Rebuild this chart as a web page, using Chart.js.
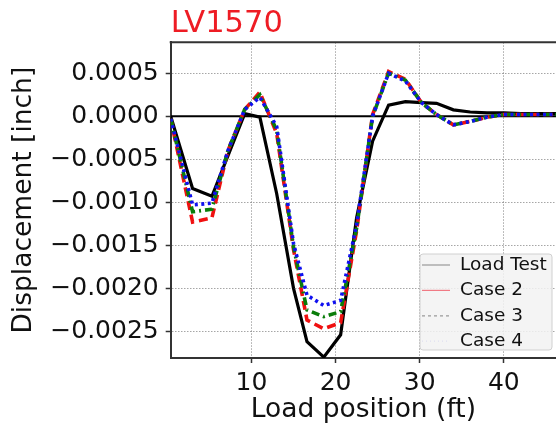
<!DOCTYPE html>
<html>
<head>
<meta charset="utf-8">
<script src="https://cdn.jsdelivr.net/npm/chart.js@4.4.1/dist/chart.umd.min.js"></script>
<style>
  html, body { margin: 0; padding: 0; background: #fff; overflow: hidden; }
  #wrap { width: 556px; height: 428px; }
</style>
</head>
<body>
<div id="wrap"><canvas id="myChart" width="556" height="428"></canvas></div>
<script>
// load positions (ft), shared by all series
const posX = [0.4, 3.0, 5.3, 7.2, 9.2, 11.0, 13.0, 15.0, 16.6, 18.6, 20.6, 22.5, 24.4,
              26.3, 28.3, 30.2, 32.0, 34.0, 36.0, 38.0, 40.0, 42.0, 44.0, 46.0, 48.0];

// displacement [inch]
const loadTest = [0.0, -0.00084, -0.00093, -0.00046, 0.00003, -0.00001, -0.00090, -0.00200,
                  -0.00262, -0.00280, -0.00254, -0.00118, -0.00029, 0.00013, 0.00017, 0.000158,
                  0.00015, 0.000075, 0.00005, 0.00004, 0.00004, 0.00003, 0.00003, 0.00003, 0.00003];
const case2 = [-0.00003, -0.00123, -0.00118, -0.00040, 0.00008, 0.00028, -0.00020, -0.00155,
               -0.00237, -0.00247, -0.00240, -0.00133, 0.00002, 0.00052, 0.00043, 0.00016,
               0.00002, -0.00010, -0.00006, -0.00001, 0.00002, 0.00002, 0.00002, 0.00002, 0.00002];
const case3 = [-0.00003, -0.00111, -0.00108, -0.00040, 0.00008, 0.00025, -0.00016, -0.00152,
               -0.00225, -0.00233, -0.00227, -0.00130, 0.0, 0.00050, 0.00042, 0.00016,
               0.00002, -0.00010, -0.00006, -0.00001, 0.00002, 0.00002, 0.00002, 0.00002, 0.00002];
const case4 = [-0.00003, -0.00103, -0.00101, -0.00040, 0.00008, 0.00022, -0.00012, -0.00148,
               -0.00208, -0.00220, -0.00214, -0.00126, 0.0, 0.00050, 0.00041, 0.00016,
               0.00002, -0.00010, -0.00006, -0.00001, 0.00002, 0.00002, 0.00002, 0.00002, 0.00002];

const seriesLabels = ['Load Test', 'Case 2', 'Case 3', 'Case 4'];
const xTicks = [10, 20, 30, 40];
const yTicks = [0.0005, 0.0, -0.0005, -0.0010, -0.0015, -0.0020, -0.0025];

const FONT = "'DejaVu Sans', 'Liberation Sans', sans-serif";
const pts = ys => posX.map((x, i) => ({ x: x, y: ys[i] }));

function fmtY(v) {
  if (Math.abs(v) < 1e-12) return '0.0000';
  const s = Math.abs(v).toFixed(4);
  return v < 0 ? '\u2212' + s : s;
}

// top frame line
const topFrame = {
  id: 'topFrame',
  afterDraw(chart) {
    const { ctx, chartArea } = chart;
    ctx.save();
    ctx.strokeStyle = '#333';
    ctx.lineWidth = 2;
    ctx.beginPath();
    ctx.moveTo(chartArea.left - 1, chartArea.top);
    ctx.lineTo(chartArea.right, chartArea.top);
    ctx.stroke();
    ctx.restore();
  }
};

// matplotlib-style legend in the lower right of the plot
const boxLegend = {
  id: 'boxLegend',
  afterDraw(chart) {
    const { ctx, chartArea } = chart;
    const left = chartArea.right - 136, top = chartArea.bottom - 104;
    const w = 132, h = 96;
    ctx.save();
    ctx.fillStyle = 'rgba(242,242,242,0.85)';
    ctx.strokeStyle = '#d0d0d0';
    ctx.lineWidth = 1;
    ctx.beginPath();
    ctx.roundRect(left, top, w, h, 3);
    ctx.fill();
    ctx.stroke();
    const handles = [
      { color: '#9a9a9a', dash: [] },
      { color: '#f07a84', dash: [] },
      { color: '#9a9a9a', dash: [3, 3] },
      { color: 'rgba(160,160,230,0.25)', dash: [1, 3] }
    ];
    ctx.font = '18.5px ' + FONT;
    ctx.textBaseline = 'middle';
    ctx.textAlign = 'left';
    seriesLabels.forEach((lab, i) => {
      const cy = top + 11 + i * 25.4;
      ctx.strokeStyle = handles[i].color;
      ctx.setLineDash(handles[i].dash);
      ctx.lineWidth = 1.2;
      ctx.beginPath();
      ctx.moveTo(left + 2, cy);
      ctx.lineTo(left + 30, cy);
      ctx.stroke();
      ctx.setLineDash([]);
      ctx.fillStyle = '#111';
      ctx.fillText(lab, left + 40, cy);
    });
    ctx.restore();
  }
};

new Chart(document.getElementById('myChart').getContext('2d'), {
  type: 'line',
  data: {
    datasets: [
      {
        label: 'zero',
        data: [{ x: posX[0], y: 0 }, { x: posX[posX.length - 1], y: 0 }],
        borderColor: '#000', borderWidth: 2, order: 5
      },
      {
        label: seriesLabels[0], data: pts(loadTest),
        borderColor: '#000', borderWidth: 3.2, order: 4
      },
      {
        label: seriesLabels[1], data: pts(case2),
        borderColor: '#f01010', borderWidth: 3.6, borderDash: [9, 5], order: 3
      },
      {
        label: seriesLabels[2], data: pts(case3),
        borderColor: '#0a7d0a', borderWidth: 3.6, borderDash: [8, 4, 2, 4], order: 2
      },
      {
        label: seriesLabels[3], data: pts(case4),
        borderColor: '#1010f0', borderWidth: 3.6, borderDash: [3, 3.5], order: 1
      }
    ]
  },
  options: {
    responsive: false,
    animation: false,
    events: [],
    layout: { padding: 0, autoPadding: false },
    elements: { point: { radius: 0 }, line: { tension: 0 } },
    plugins: {
      legend: { display: false },
      tooltip: { enabled: false },
      title: {
        display: true,
        text: 'LV1570',
        align: 'start',
        fullSize: false,
        color: '#ee1c24',
        font: { family: FONT, size: 30.5, weight: 'normal', lineHeight: 1 },
        padding: { top: 8.5, bottom: 3.3 }
      }
    },
    scales: {
      x: {
        type: 'linear',
        min: 0.4,
        max: 46.2,
        afterFit: s => { s.height = 70; },
        afterBuildTicks: s => { s.ticks = xTicks.map(v => ({ value: v })); },
        ticks: {
          color: '#111',
          font: { family: FONT, size: 25 },
          padding: 5,
          maxRotation: 0,
          callback: v => String(v)
        },
        grid: {
          color: 'rgba(0,0,0,0.35)', lineWidth: 1,
          tickLength: 5, tickColor: '#333', tickWidth: 1.5
        },
        border: { display: true, color: '#333', width: 2, dash: [1.5, 1.5] },
        title: {
          display: true,
          text: 'Load position (ft)',
          color: '#111',
          font: { family: FONT, size: 26.5 },
          padding: { top: 0, bottom: 2 }
        }
      },
      y: {
        type: 'linear',
        min: -0.00281,
        max: 0.00086,
        afterFit: s => { s.width = 170.7; },
        afterBuildTicks: s => { s.ticks = yTicks.map(v => ({ value: v })); },
        ticks: {
          color: '#111',
          font: { family: FONT, size: 25 },
          padding: 7,
          callback: v => fmtY(v)
        },
        grid: {
          color: 'rgba(0,0,0,0.35)', lineWidth: 1,
          tickLength: 5, tickColor: '#333', tickWidth: 1.5
        },
        border: { display: true, color: '#333', width: 2, dash: [1.5, 1.5] },
        title: {
          display: true,
          text: 'Displacement [inch]',
          color: '#111',
          font: { family: FONT, size: 26.5 },
          padding: { top: 8, bottom: 0 }
        }
      }
    }
  },
  plugins: [topFrame, boxLegend]
});
</script>
</body>
</html>
